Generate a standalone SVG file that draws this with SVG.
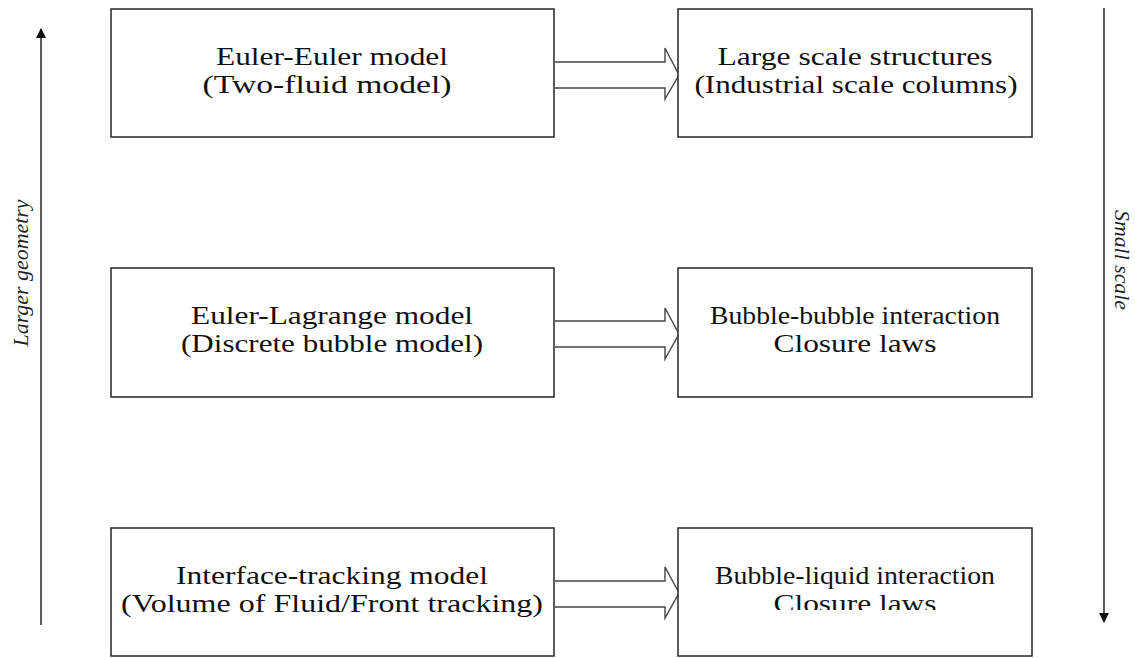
<svg xmlns="http://www.w3.org/2000/svg" width="1135" height="658" viewBox="0 0 1135 658">
<style>
.box{fill:#fff;stroke:#333;stroke-width:1.6}
.t{font-family:"Liberation Serif","Times New Roman",serif;font-size:25px;fill:#111;text-anchor:middle}
.side{font-family:"Liberation Serif","Times New Roman",serif;font-size:21px;font-style:italic;fill:#222;text-anchor:middle}
.blk{fill:#fff;stroke:#444;stroke-width:1.4;stroke-linejoin:miter}
.axis{stroke:#333;stroke-width:1.6;fill:none}
</style>
<defs>
<marker id="ah" markerWidth="10" markerHeight="10" refX="9" refY="5" orient="auto" markerUnits="userSpaceOnUse">
<path d="M0,0 L10,5 L0,10 z" fill="#111"/>
</marker>
<clipPath id="cut"><rect x="678" y="528" width="354" height="82"/></clipPath>
</defs>
<rect width="1135" height="658" fill="#fff"/>

<g id="axes">
<line class="axis" x1="41" y1="625" x2="41" y2="29" marker-end="url(#ah)"/>
<line class="axis" x1="1104" y1="8" x2="1104" y2="622" marker-end="url(#ah)"/>
<text class="side" transform="translate(28 273) rotate(-90)" x="0" y="0" textLength="147" lengthAdjust="spacingAndGlyphs">Larger geometry</text>
<text class="side" transform="translate(1115 260) rotate(90)" x="0" y="0" textLength="100" lengthAdjust="spacingAndGlyphs">Small scale</text>
</g>

<g id="connectors">
<path class="blk" d="M555,62 H665 V48 L679,75 L665,99 V88 H555"/>
<path class="blk" d="M555,321 H665 V308 L679,334 L665,359 V347 H555"/>
<path class="blk" d="M555,581 H665 V567 L679,593 L665,618 V607 H555"/>
</g>

<g id="euler-euler">
<rect class="box" x="111" y="9" width="443" height="128"/>
<text class="t" x="332" y="65" textLength="232" lengthAdjust="spacingAndGlyphs">Euler-Euler model</text>
<text class="t" x="327" y="93" textLength="249" lengthAdjust="spacingAndGlyphs">(Two-fluid model)</text>
</g>

<g id="large-scale">
<rect class="box" x="678" y="9" width="354" height="128"/>
<text class="t" x="855" y="65" textLength="275" lengthAdjust="spacingAndGlyphs">Large scale structures</text>
<text class="t" x="856" y="93" textLength="323" lengthAdjust="spacingAndGlyphs">(Industrial scale columns)</text>
</g>

<g id="euler-lagrange">
<rect class="box" x="111" y="268" width="443" height="129"/>
<text class="t" x="332" y="324" textLength="282" lengthAdjust="spacingAndGlyphs">Euler-Lagrange model</text>
<text class="t" x="332" y="352" textLength="302" lengthAdjust="spacingAndGlyphs">(Discrete bubble model)</text>
</g>

<g id="bubble-bubble">
<rect class="box" x="678" y="268" width="354" height="129"/>
<text class="t" x="855" y="324" textLength="290" lengthAdjust="spacingAndGlyphs">Bubble-bubble interaction</text>
<text class="t" x="855" y="352" textLength="163" lengthAdjust="spacingAndGlyphs">Closure laws</text>
</g>

<g id="interface-tracking">
<rect class="box" x="111" y="528" width="443" height="128"/>
<text class="t" x="332" y="584" textLength="312" lengthAdjust="spacingAndGlyphs">Interface-tracking model</text>
<text class="t" x="332" y="612" textLength="422" lengthAdjust="spacingAndGlyphs">(Volume of Fluid/Front tracking)</text>
</g>

<g id="bubble-liquid">
<rect class="box" x="678" y="528" width="354" height="128"/>
<text class="t" x="855" y="584" textLength="280" lengthAdjust="spacingAndGlyphs">Bubble-liquid interaction</text>
<text class="t" x="855" y="612" textLength="163" lengthAdjust="spacingAndGlyphs" clip-path="url(#cut)">Closure laws</text>
</g>
</svg>
